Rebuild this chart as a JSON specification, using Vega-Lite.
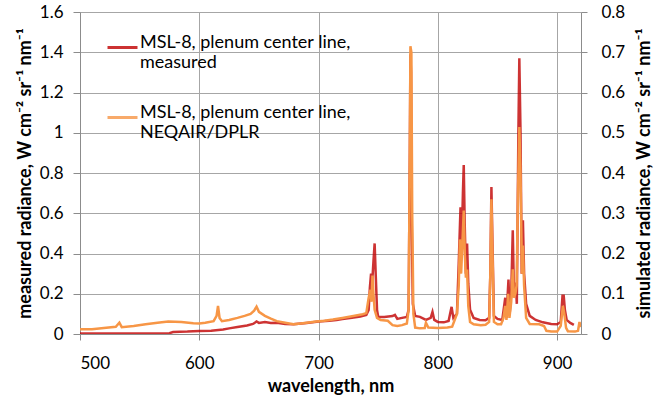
{
  "$schema": "https://vega.github.io/schema/vega-lite/v6.json",
  "width": 654,
  "height": 400,
  "autosize": {"type": "fit", "contains": "padding"},
  "padding": {"left": 16, "right": 0, "top": 3, "bottom": 5},
  "config": {
    "font": "Lato",
    "view": {"stroke": null},
    "axis": {
      "labelFont": "Lato",
      "labelFontSize": 17,
      "labelColor": "#000000",
      "titleFont": "Lato",
      "titleFontSize": 18,
      "titleFontWeight": "bold",
      "titleColor": "#000000",
      "domainColor": "#8c8c8c",
      "tickColor": "#8c8c8c",
      "gridColor": "#a6a6a6",
      "gridWidth": 1,
      "tickSize": 6
    }
  },
  "datasets": {
    "meas": [
      {"w": 500, "v": 0.002}, {"w": 520, "v": 0.002}, {"w": 540, "v": 0.002}, {"w": 560, "v": 0.003},
      {"w": 575, "v": 0.004}, {"w": 578, "v": 0.010}, {"w": 590, "v": 0.012}, {"w": 600, "v": 0.015},
      {"w": 610, "v": 0.016}, {"w": 620, "v": 0.022}, {"w": 625, "v": 0.028}, {"w": 632, "v": 0.035},
      {"w": 640, "v": 0.042}, {"w": 645, "v": 0.050}, {"w": 648, "v": 0.062}, {"w": 650, "v": 0.055},
      {"w": 655, "v": 0.060}, {"w": 660, "v": 0.055}, {"w": 665, "v": 0.056}, {"w": 672, "v": 0.050},
      {"w": 679, "v": 0.048}, {"w": 690, "v": 0.055}, {"w": 700, "v": 0.062}, {"w": 709, "v": 0.066},
      {"w": 715, "v": 0.070}, {"w": 720, "v": 0.075}, {"w": 728, "v": 0.081}, {"w": 735, "v": 0.087},
      {"w": 740, "v": 0.095}, {"w": 742, "v": 0.12}, {"w": 743, "v": 0.23}, {"w": 744, "v": 0.30},
      {"w": 745, "v": 0.26}, {"w": 746, "v": 0.36}, {"w": 747, "v": 0.45}, {"w": 748, "v": 0.28},
      {"w": 749, "v": 0.12}, {"w": 750, "v": 0.085}, {"w": 755, "v": 0.085}, {"w": 762, "v": 0.089},
      {"w": 764, "v": 0.095}, {"w": 766, "v": 0.075}, {"w": 770, "v": 0.080}, {"w": 774, "v": 0.085},
      {"w": 775.5, "v": 0.12}, {"w": 776.5, "v": 0.9}, {"w": 777, "v": 1.39}, {"w": 777.5, "v": 1.3},
      {"w": 778, "v": 0.6}, {"w": 779, "v": 0.15}, {"w": 781, "v": 0.09}, {"w": 785, "v": 0.085},
      {"w": 790, "v": 0.07}, {"w": 794, "v": 0.08}, {"w": 795.5, "v": 0.11}, {"w": 797, "v": 0.07},
      {"w": 800, "v": 0.06}, {"w": 805, "v": 0.058}, {"w": 809, "v": 0.065}, {"w": 811.5, "v": 0.135},
      {"w": 813, "v": 0.08}, {"w": 816, "v": 0.10}, {"w": 817.5, "v": 0.35}, {"w": 819, "v": 0.63},
      {"w": 820, "v": 0.45}, {"w": 821, "v": 0.70}, {"w": 821.7, "v": 0.84}, {"w": 822.5, "v": 0.55},
      {"w": 823.5, "v": 0.30}, {"w": 824.5, "v": 0.45}, {"w": 825.5, "v": 0.25}, {"w": 827, "v": 0.12},
      {"w": 830, "v": 0.08}, {"w": 835, "v": 0.07}, {"w": 840, "v": 0.068}, {"w": 843, "v": 0.08},
      {"w": 844, "v": 0.30}, {"w": 844.9, "v": 0.73}, {"w": 845.8, "v": 0.45}, {"w": 847, "v": 0.09},
      {"w": 850, "v": 0.075}, {"w": 854, "v": 0.07}, {"w": 856.5, "v": 0.18}, {"w": 857.5, "v": 0.08},
      {"w": 859.2, "v": 0.27}, {"w": 860.2, "v": 0.10}, {"w": 861.5, "v": 0.20}, {"w": 862.8, "v": 0.515},
      {"w": 863.8, "v": 0.20}, {"w": 865.3, "v": 0.255}, {"w": 866.2, "v": 0.15}, {"w": 867.5, "v": 1.0},
      {"w": 868.3, "v": 1.37}, {"w": 869.3, "v": 1.0}, {"w": 870.3, "v": 0.30}, {"w": 871.3, "v": 0.565},
      {"w": 872.3, "v": 0.30}, {"w": 874, "v": 0.15}, {"w": 877, "v": 0.09}, {"w": 882, "v": 0.07},
      {"w": 888, "v": 0.058}, {"w": 895, "v": 0.05}, {"w": 900, "v": 0.048}, {"w": 903, "v": 0.06},
      {"w": 904.5, "v": 0.19}, {"w": 905.5, "v": 0.19}, {"w": 906.5, "v": 0.12}, {"w": 908, "v": 0.07},
      {"w": 911, "v": 0.055}, {"w": 914, "v": 0.045}
    ],
    "sim": [
      {"w": 500, "v": 0.012}, {"w": 510, "v": 0.012}, {"w": 520, "v": 0.015}, {"w": 530, "v": 0.018},
      {"w": 533, "v": 0.028}, {"w": 535, "v": 0.017}, {"w": 545, "v": 0.020}, {"w": 555, "v": 0.024},
      {"w": 565, "v": 0.028}, {"w": 574, "v": 0.031}, {"w": 585, "v": 0.030}, {"w": 595, "v": 0.027},
      {"w": 600, "v": 0.026}, {"w": 605, "v": 0.028}, {"w": 612, "v": 0.032}, {"w": 614.5, "v": 0.045},
      {"w": 615.7, "v": 0.070}, {"w": 617, "v": 0.040}, {"w": 619, "v": 0.032}, {"w": 625, "v": 0.035},
      {"w": 632, "v": 0.040}, {"w": 638, "v": 0.045}, {"w": 643, "v": 0.050}, {"w": 646, "v": 0.058},
      {"w": 648, "v": 0.068}, {"w": 650, "v": 0.055}, {"w": 655, "v": 0.045}, {"w": 660, "v": 0.038},
      {"w": 665, "v": 0.032}, {"w": 672, "v": 0.028}, {"w": 679, "v": 0.024}, {"w": 685, "v": 0.026},
      {"w": 690, "v": 0.028}, {"w": 698, "v": 0.031}, {"w": 705, "v": 0.033}, {"w": 712, "v": 0.036},
      {"w": 720, "v": 0.040}, {"w": 728, "v": 0.044}, {"w": 737, "v": 0.049}, {"w": 740, "v": 0.052},
      {"w": 742, "v": 0.09}, {"w": 743.5, "v": 0.11}, {"w": 744.3, "v": 0.08}, {"w": 745.2, "v": 0.145},
      {"w": 746, "v": 0.10}, {"w": 747, "v": 0.06}, {"w": 749, "v": 0.04}, {"w": 752, "v": 0.035},
      {"w": 758, "v": 0.033}, {"w": 762, "v": 0.022}, {"w": 766, "v": 0.020}, {"w": 770, "v": 0.022},
      {"w": 774, "v": 0.026}, {"w": 775.5, "v": 0.06}, {"w": 776.5, "v": 0.45}, {"w": 777, "v": 0.715},
      {"w": 777.8, "v": 0.70}, {"w": 778.5, "v": 0.30}, {"w": 779.5, "v": 0.05}, {"w": 781, "v": 0.016},
      {"w": 785, "v": 0.014}, {"w": 789, "v": 0.015}, {"w": 790, "v": 0.028}, {"w": 792, "v": 0.016},
      {"w": 800, "v": 0.015}, {"w": 808, "v": 0.016}, {"w": 812, "v": 0.018}, {"w": 816, "v": 0.05},
      {"w": 817.5, "v": 0.12}, {"w": 818.5, "v": 0.235}, {"w": 819.5, "v": 0.15}, {"w": 820.5, "v": 0.22},
      {"w": 821.7, "v": 0.307}, {"w": 822.6, "v": 0.20}, {"w": 823.5, "v": 0.14}, {"w": 824.5, "v": 0.16},
      {"w": 825.5, "v": 0.07}, {"w": 827, "v": 0.03}, {"w": 830, "v": 0.024}, {"w": 836, "v": 0.022},
      {"w": 840, "v": 0.023}, {"w": 843, "v": 0.03}, {"w": 844, "v": 0.15}, {"w": 844.9, "v": 0.335},
      {"w": 845.8, "v": 0.20}, {"w": 847, "v": 0.03}, {"w": 850, "v": 0.024}, {"w": 853, "v": 0.024},
      {"w": 855, "v": 0.04}, {"w": 856.5, "v": 0.07}, {"w": 857.5, "v": 0.035}, {"w": 859, "v": 0.10},
      {"w": 860, "v": 0.04}, {"w": 861.5, "v": 0.08}, {"w": 862.8, "v": 0.161}, {"w": 863.8, "v": 0.09},
      {"w": 865, "v": 0.10}, {"w": 866, "v": 0.12}, {"w": 867.2, "v": 0.35}, {"w": 868.3, "v": 0.514},
      {"w": 869.3, "v": 0.40}, {"w": 870.5, "v": 0.15}, {"w": 871.3, "v": 0.22}, {"w": 872.3, "v": 0.12},
      {"w": 874, "v": 0.04}, {"w": 877, "v": 0.025}, {"w": 885, "v": 0.024}, {"w": 889, "v": 0.02},
      {"w": 891, "v": 0.008}, {"w": 895, "v": 0.006}, {"w": 900, "v": 0.006}, {"w": 903, "v": 0.02},
      {"w": 904.8, "v": 0.07}, {"w": 906, "v": 0.05}, {"w": 907.5, "v": 0.015}, {"w": 909, "v": 0.007},
      {"w": 915, "v": 0.006}, {"w": 917.5, "v": 0.008}, {"w": 918.7, "v": 0.03}, {"w": 919.5, "v": 0.02},
      {"w": 920, "v": 0.018}
    ]
  },
  "layer": [
    {
      "data": {"name": "meas"},
      "mark": {"type": "line", "strokeWidth": 2.5, "opacity": 0.8, "clip": true},
      "encoding": {
        "x": {
          "field": "w", "type": "quantitative",
          "scale": {"domain": [500, 920], "nice": false, "zero": false},
          "axis": {"title": "wavelength, nm", "values": [500, 600, 700, 800, 900], "format": "d", "grid": true, "tickSize": 6, "labelPadding": 15, "titlePadding": 6}
        },
        "y": {
          "field": "v", "type": "quantitative",
          "scale": {"domain": [0, 1.6], "nice": false},
          "axis": {"orient": "left", "title": "measured radiance, W cm⁻² sr⁻¹ nm⁻¹", "values": [0, 0.2, 0.4, 0.6, 0.8, 1, 1.2, 1.4, 1.6], "format": "~g", "grid": true, "tickSize": 7, "labelPadding": 10, "titlePadding": 5}
        },
        "color": {
          "datum": "MSL-8, plenum center line, measured", "type": "nominal",
          "scale": {"domain": ["MSL-8, plenum center line, measured", "MSL-8, plenum center line, NEQAIR/DPLR"], "range": ["#C00000", "#F79646"]},
          "legend": {
            "title": null, "orient": "none", "legendX": 26, "legendY": 19,
            "symbolType": "stroke", "symbolSize": 900, "symbolStrokeWidth": 3,
            "labelFont": "Lato", "labelFontSize": 18, "labelColor": "#000000",
            "labelBaseline": "alphabetic", "labelOffset": 1, "labelLimit": 400, "rowPadding": 29,
            "labelExpr": "[slice(datum.label, 0, 26), slice(datum.label, 27)]"
          }
        }
      }
    },
    {
      "data": {"name": "sim"},
      "mark": {"type": "line", "strokeWidth": 2.5, "clip": true},
      "encoding": {
        "x": {"field": "w", "type": "quantitative"},
        "y": {
          "field": "v", "type": "quantitative",
          "scale": {"domain": [0, 0.8], "nice": false},
          "axis": {"orient": "right", "title": "simulated radiance, W cm⁻² sr⁻¹ nm⁻¹", "titleAngle": 270, "titleBaseline": "top", "values": [0, 0.1, 0.2, 0.3, 0.4, 0.5, 0.6, 0.7, 0.8], "format": "~g", "grid": false, "tickSize": 6, "labelPadding": 14, "titlePadding": 11}
        },
        "color": {"datum": "MSL-8, plenum center line, NEQAIR/DPLR", "type": "nominal"}
      }
    }
  ],
  "resolve": {"scale": {"y": "independent"}}
}
